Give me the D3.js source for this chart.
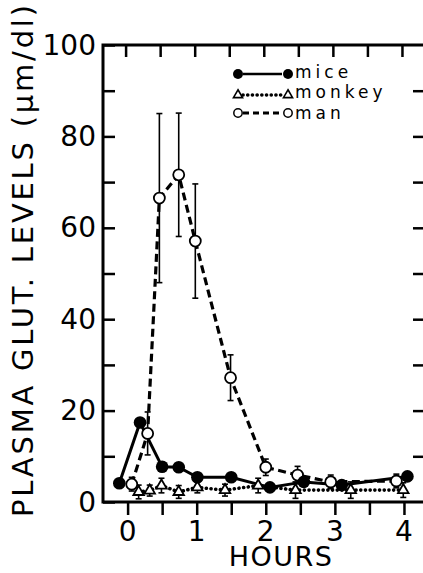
<!DOCTYPE html>
<html>
<head>
<meta charset="utf-8">
<script src="https://cdn.jsdelivr.net/npm/d3@7/dist/d3.min.js"></script>
<style>
  html, body { margin: 0; padding: 0; background: #fff; }
  svg { display: block; }
  text { font-family: "DejaVu Sans", sans-serif; fill: #000; }
</style>
</head>
<body>
<svg id="chart" width="423" height="573"></svg>
<script>
// Plasma glutamate after oral dose: hours vs level (µm/dl)
const miceHours   = [-0.12, 0.18, 0.50, 0.74, 1.01, 1.50, 2.06, 2.55, 3.10, 4.05];
const miceValues  = [4.1, 17.4, 7.7, 7.6, 5.4, 5.4, 3.2, 4.4, 3.7, 5.6];

const monkeyHours  = [0.16, 0.32, 0.49, 0.74, 1.01, 1.41, 1.89, 2.43, 3.23, 3.99];
const monkeyValues = [2.2, 2.5, 3.6, 2.2, 3.2, 2.6, 3.6, 2.6, 2.6, 2.6];
const monkeyErrors = [1.5, 1.2, 1.6, 1.4, 1.2, 1.3, 1.6, 1.8, 1.8, 1.6];

const manHours  = [0.06, 0.29, 0.46, 0.74, 0.98, 1.49, 2.00, 2.46, 2.94, 3.89];
const manValues = [3.9, 15.0, 66.5, 71.6, 57.1, 27.2, 7.6, 5.9, 4.4, 4.6];
const manErrors = [1.5, 4.7, 18.5, 13.5, 12.5, 5.0, 1.8, 1.9, 1.5, 1.5];

const xTickLabels = [0, 1, 2, 3, 4];
const yTickLabels = [0, 20, 40, 60, 80, 100];
const legendNames = ["mice", "monkey", "man"];

const svg = d3.select("#chart");
const plotLeft = 103, plotRight = 424, plotTop = 45, plotBottom = 502;

const x = d3.scaleLinear().domain([-0.356, 4.29]).range([plotLeft, plotRight]);
const y = d3.scaleLinear().domain([0, 100]).range([plotBottom, plotTop]);

const ink = "#000";

// frame: left, top and bottom edges (right edge runs past the page)
svg.append("path")
  .attr("d", `M${plotRight},${plotTop}H${plotLeft}V${plotBottom}H${plotRight}`)
  .attr("fill", "none").attr("stroke", ink).attr("stroke-width", 3);

// left axis: inward ticks every 10, labels every 20
const yAxisL = d3.axisRight(y).tickValues(d3.range(0, 101, 10)).tickSize(12).tickFormat("");
svg.append("g").attr("transform", `translate(${plotLeft},0)`).call(yAxisL)
  .call(g => g.select(".domain").remove())
  .call(g => g.selectAll("line").attr("stroke", ink).attr("stroke-width", 2.5));
svg.append("g").selectAll("text").data(yTickLabels).join("text")
  .attr("x", 96).attr("y", d => y(d))
  .attr("text-anchor", "end").attr("dominant-baseline", "central")
  .attr("font-size", 28).text(d => d);

// right axis ticks
const yAxisR = d3.axisLeft(y).tickValues(d3.range(10, 100, 10)).tickSize(11).tickFormat("");
svg.append("g").attr("transform", `translate(${plotRight},0)`).call(yAxisR)
  .call(g => g.select(".domain").remove())
  .call(g => g.selectAll("line").attr("stroke", ink).attr("stroke-width", 2.5));

// bottom axis: outward ticks every half hour
const xAxisB = d3.axisBottom(x).tickValues(d3.range(0, 4.01, 0.5)).tickSize(13).tickFormat("");
svg.append("g").attr("transform", `translate(0,${plotBottom})`).call(xAxisB)
  .call(g => g.select(".domain").remove())
  .call(g => g.selectAll("line").attr("stroke", ink).attr("stroke-width", 2.5));
svg.append("g").selectAll("text").data(xTickLabels).join("text")
  .attr("x", d => x(d)).attr("y", 541)
  .attr("text-anchor", "middle").attr("font-size", 28).text(d => d);

// top axis ticks
const xAxisT = d3.axisBottom(x).tickValues(d3.range(0, 4.01, 0.5)).tickSize(12).tickFormat("");
svg.append("g").attr("transform", `translate(-2,${plotTop})`).call(xAxisT)
  .call(g => g.select(".domain").remove())
  .call(g => g.selectAll("line").attr("stroke", ink).attr("stroke-width", 2.5));

// axis titles
svg.append("text")
  .attr("transform", "translate(33,517) rotate(-90)")
  .attr("font-size", 29).attr("textLength", 512).attr("lengthAdjust", "spacing")
  .text("PLASMA GLUT. LEVELS (μm/dl)");
svg.append("text")
  .attr("x", 281).attr("y", 566).attr("text-anchor", "middle")
  .attr("font-size", 27).attr("letter-spacing", 1.5).text("HOURS");

// series
const lineGen = d3.line().x(d => x(d[0])).y(d => y(d[1]));
const zip = (a, b) => a.map((v, i) => [v, b[i]]);

const mice = zip(miceHours, miceValues);
const monkey = zip(monkeyHours, monkeyValues);
const man = zip(manHours, manValues);

const styles = {
  mice:   { dash: null, width: 3, cap: "butt" },
  monkey: { dash: "0.1,4.6", width: 3.6, cap: "round" },
  man:    { dash: "8,4.5", width: 3.2, cap: "butt" }
};

function drawLine(data, s) {
  svg.append("path").datum(data).attr("d", lineGen)
    .attr("fill", "none").attr("stroke", ink)
    .attr("stroke-width", s.width).attr("stroke-linecap", s.cap)
    .attr("stroke-dasharray", s.dash);
}
drawLine(man, styles.man);
drawLine(monkey, styles.monkey);
drawLine(mice, styles.mice);

// error bars
function drawErrors(hours, values, errs) {
  const g = svg.append("g").attr("stroke", ink).attr("stroke-width", 1.6);
  hours.forEach((h, i) => {
    const cx = x(h), y1 = y(values[i] + errs[i]), y2 = y(values[i] - errs[i]);
    g.append("line").attr("x1", cx).attr("x2", cx).attr("y1", y1).attr("y2", y2);
    g.append("line").attr("x1", cx - 3).attr("x2", cx + 3).attr("y1", y1).attr("y2", y1);
    g.append("line").attr("x1", cx - 3).attr("x2", cx + 3).attr("y1", y2).attr("y2", y2);
  });
}
drawErrors(manHours, manValues, manErrors);
drawErrors(monkeyHours, monkeyValues, monkeyErrors);

// markers
const tri = d3.symbol().type(d3.symbolTriangle).size(48);
svg.append("g").selectAll("path").data(monkey).join("path")
  .attr("d", tri).attr("transform", d => `translate(${x(d[0])},${y(d[1])})`)
  .attr("fill", "#fff").attr("stroke", ink).attr("stroke-width", 1.8);
svg.append("g").selectAll("circle").data(man).join("circle")
  .attr("cx", d => x(d[0])).attr("cy", d => y(d[1])).attr("r", 5.5)
  .attr("fill", "#fff").attr("stroke", ink).attr("stroke-width", 1.8);
svg.append("g").selectAll("circle").data(mice).join("circle")
  .attr("cx", d => x(d[0])).attr("cy", d => y(d[1])).attr("r", 6.3)
  .attr("fill", ink);

// legend
const lg = svg.append("g");
const rowsY = [74, 95, 113];
const textY = [78, 98, 119];
legendNames.forEach((name, i) => {
  const s = styles[name];
  const yy = rowsY[i];
  lg.append("line").attr("x1", 243).attr("x2", 282).attr("y1", yy).attr("y2", yy)
    .attr("stroke", ink).attr("stroke-width", name === "mice" ? 2.5 : s.width)
    .attr("stroke-linecap", s.cap).attr("stroke-dasharray", name === "man" ? "6,4" : s.dash);
  [238, 288].forEach(cx => {
    if (name === "mice") {
      lg.append("circle").attr("cx", cx).attr("cy", yy).attr("r", 5).attr("fill", ink);
    } else if (name === "monkey") {
      lg.append("path").attr("d", d3.symbol().type(d3.symbolTriangle).size(36))
        .attr("transform", `translate(${cx},${yy})`)
        .attr("fill", "#fff").attr("stroke", ink).attr("stroke-width", 1.6);
    } else {
      lg.append("circle").attr("cx", cx).attr("cy", yy).attr("r", 4.2)
        .attr("fill", "#fff").attr("stroke", ink).attr("stroke-width", 1.5);
    }
  });
  lg.append("text").attr("x", 295).attr("y", textY[i])
    .attr("font-size", 17).attr("letter-spacing", 4).text(name);
});
</script>
</body>
</html>
